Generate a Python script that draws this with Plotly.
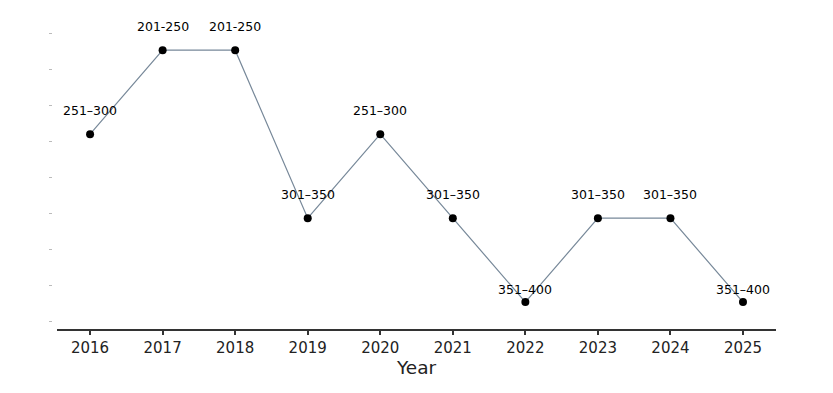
import plotly.graph_objects as go

years = [2016, 2017, 2018, 2019, 2020, 2021, 2022, 2023, 2024, 2025]
rank_labels = ["251–300", "201-250", "201-250", "301–350", "251–300",
               "301–350", "351–400", "301–350", "301–350", "351–400"]
# ordinal band level (0 = best band 201-250)
levels = [1, 0, 0, 2, 1, 2, 3, 2, 2, 3]

fig = go.Figure()
fig.add_trace(go.Scatter(
    x=years, y=levels, mode="lines+markers",
    line=dict(color="#778899", width=1.2),
    marker=dict(color="black", size=8),
    hoverinfo="skip", showlegend=False,
))

for x, y, t in zip(years, levels, rank_labels):
    fig.add_annotation(x=x, y=y, text=t, showarrow=False,
                       yshift=13 if y == 3 else 24,
                       font=dict(family="DejaVu Sans", size=12.5, color="black"))

fig.update_layout(
    width=825, height=385,
    margin=dict(l=44, r=57, t=22, b=64),
    paper_bgcolor="white", plot_bgcolor="white",
    font=dict(family="DejaVu Sans", color="black"),
    xaxis=dict(
        domain=[0.007, 1],
        range=[2015.545, 2025.455],
        tickmode="array", tickvals=years, ticktext=[str(y) for y in years],
        ticks="outside", ticklen=4, tickwidth=1.5, tickcolor="#333333",
        showline=True, linecolor="#333333", linewidth=2,
        showgrid=False, zeroline=False,
        tickfont=dict(size=15, color="#222222"),
        title=dict(text="Year", font=dict(size=18.5, color="#222222"), standoff=4),
    ),
    yaxis=dict(
        range=[3.32, -0.24],
        anchor="free", position=0,
        tickmode="linear", tick0=-0.2024, dtick=3/7,
        ticks="outside", ticklen=3, tickwidth=1, tickcolor="#bbbbbb",
        showticklabels=False, showline=False, showgrid=False, zeroline=False,
    ),
)

fig.write_html("out.html")
